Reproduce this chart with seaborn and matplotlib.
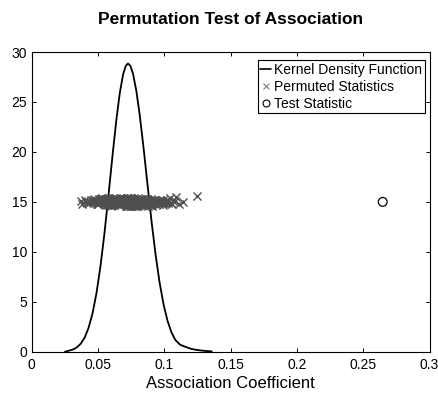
import matplotlib
matplotlib.use('Agg')
import matplotlib.pyplot as plt
import seaborn as sns
import pandas as pd
from matplotlib.lines import Line2D

# Kernel density curve
kde_x = [0.0252, 0.0280, 0.0310, 0.0340, 0.0370, 0.0400, 0.0430, 0.0460, 0.0490, 0.0520,
         0.0550, 0.0580, 0.0610, 0.0640, 0.0665, 0.0690, 0.0710, 0.0727, 0.0745, 0.0765,
         0.0790, 0.0815, 0.0845, 0.0875, 0.0905, 0.0935, 0.0965, 0.0995, 0.1025, 0.1055,
         0.1085, 0.1120, 0.1157, 0.1207, 0.1250, 0.1300, 0.1358]
kde_y = [0.0, 0.10, 0.21, 0.42, 0.79, 1.40, 2.39, 3.85, 5.90, 8.59,
         11.90, 15.66, 19.59, 23.29, 25.88, 27.75, 28.61, 28.85, 28.62, 27.82,
         26.11, 23.74, 20.33, 16.63, 13.00, 9.72, 6.94, 4.74, 3.09, 1.93,
         1.15, 0.70, 0.50, 0.27, 0.17, 0.09, 0.03]

# Permuted statistics (x in thousandths)
perm_x_milli = [
    73, 65, 81, 58, 90, 70, 77, 62, 85, 54, 96, 68, 74, 79, 60, 88, 71, 66, 83, 56,
    75, 63, 92, 50, 69, 78, 86, 59, 72, 64, 80, 53, 94, 67, 76, 61, 84, 57, 89, 70,
    48, 99, 74, 66, 82, 55, 71, 87, 63, 77, 52, 91, 68, 79, 60, 85, 73, 64, 97, 58,
    72, 81, 46, 67, 75, 93, 62, 78, 56, 86, 70, 65, 83, 51, 74, 89, 61, 76, 69, 80,
    57, 95, 73, 63, 84, 49, 71, 78, 66, 88, 59, 75, 82, 54, 68, 91, 64, 77, 72, 86,
    60, 70, 101, 47, 79, 67, 74, 83, 55, 90, 62, 76, 69, 85, 58, 72, 98, 65, 80, 53,
    73, 87, 61, 78, 68, 94, 56, 71, 82, 64, 75, 50, 89, 66, 79, 59, 84, 70, 92, 63,
    45, 76, 81, 67, 72, 57, 88, 74, 62, 96, 69, 80, 54, 77, 65, 86, 71, 60, 83, 103,
    74, 58, 90, 68, 79, 52, 73, 85, 63, 70, 97, 61, 76, 48, 82, 66, 87, 72, 56, 78,
    69, 93, 64, 81, 75, 59, 71, 100, 67, 84, 55, 77, 62, 89, 73, 51, 80, 65, 95, 70,
    44, 42, 40, 38, 37, 43, 41, 104, 106, 107, 109, 111, 114, 102, 105, 108, 46, 49, 99, 98,
    72, 66, 78, 61, 85, 70, 57, 91, 74, 63, 80, 68, 53, 87, 76, 59, 83, 71, 94, 65,
    62, 79, 70, 55, 87, 66, 74, 92, 59, 81, 68, 76, 51, 84, 63, 72, 97, 57, 78, 69,
    88, 64, 75, 53, 82, 71, 60, 93, 67, 77, 56, 86, 73, 49, 80, 65, 90, 58, 74, 101,
    66, 83, 52, 77, 70, 95, 61, 79, 68, 87, 55, 73, 84, 62, 91, 75, 50, 81, 64, 98,
    71, 58, 85, 67, 78, 54, 90, 72, 63, 96, 76, 60, 83, 69, 47, 88, 74, 65, 80, 57,
    79, 68, 93, 61, 75, 86, 52, 70, 82, 64, 99, 73, 59, 89, 66, 77, 55, 84, 71, 102,
    124.5]
perm_y = [
    15.0, 14.8, 15.2, 14.9, 15.1, 15.3, 14.7, 15.0, 14.9, 15.2, 14.8, 15.1, 15.4, 14.6, 15.0, 15.2, 14.9, 15.1, 14.7, 15.3,
    14.9, 15.1, 15.0, 14.8, 15.3, 14.7, 15.2, 15.0, 14.6, 15.1, 14.9, 15.4, 15.0, 14.8, 15.2, 14.9, 15.1, 15.3, 14.7, 15.0,
    15.2, 14.7, 14.9, 15.1, 15.0, 15.3, 14.8, 15.1, 15.2, 14.6, 15.0, 14.9, 15.3, 15.1, 14.8, 15.0, 15.4, 14.9, 15.1, 14.7,
    14.8, 15.0, 15.1, 15.3, 14.9, 15.2, 15.0, 14.7, 15.1, 14.9, 15.2, 15.0, 14.8, 15.3, 14.6, 15.1, 14.9, 15.2, 15.0, 15.4,
    15.1, 14.9, 15.2, 14.8, 15.0, 15.1, 15.3, 14.9, 14.7, 15.0, 15.2, 14.8, 15.1, 15.0, 15.3, 14.6, 15.1, 14.9, 15.2, 15.0,
    14.7, 15.2, 15.0, 15.1, 14.9, 15.3, 14.8, 15.0, 15.2, 15.1, 14.9, 14.7, 15.0, 15.2, 15.4, 14.8, 15.1, 15.0, 14.9, 15.3,
    15.0, 15.3, 14.9, 14.8, 15.1, 15.0, 15.2, 14.6, 15.1, 14.9, 15.3, 15.0, 14.8, 15.2, 15.1, 14.7, 15.0, 14.9, 15.2, 15.1,
    15.2, 15.0, 14.8, 15.1, 14.9, 15.3, 15.0, 15.2, 14.7, 15.1, 15.0, 14.9, 15.2, 15.4, 14.8, 15.0, 15.1, 14.6, 15.3, 14.9,
    14.9, 15.1, 15.3, 15.0, 14.8, 15.2, 14.7, 15.0, 15.1, 14.9, 15.2, 15.0, 14.8, 15.1, 15.3, 14.9, 15.0, 15.2, 14.7, 15.1,
    15.1, 14.8, 15.0, 15.2, 14.9, 15.1, 15.3, 15.0, 14.7, 15.2, 14.9, 15.0, 15.4, 14.8, 15.1, 15.0, 14.6, 15.2, 14.9, 15.0,
    15.0, 14.9, 15.2, 14.8, 15.1, 14.9, 15.0, 15.4, 14.8, 15.1, 15.5, 14.8, 15.0, 15.2, 14.9, 15.1, 15.0, 14.8, 15.2, 15.0,
    15.0, 15.2, 14.9, 15.1, 14.8, 15.3, 15.0, 14.9, 15.1, 15.2, 14.7, 15.0, 15.1, 14.9, 15.2, 15.0, 14.8, 15.3, 15.1, 14.9,
    15.3, 14.8, 15.0, 15.2, 14.7, 15.1, 14.9, 15.0, 15.3, 14.8, 15.2, 14.6, 15.0, 15.1, 14.9, 15.4, 15.0, 14.8, 15.2, 15.1,
    14.9, 15.2, 14.7, 15.0, 15.3, 14.8, 15.1, 15.0, 15.4, 14.9, 15.2, 15.0, 14.6, 15.1, 14.8, 15.3, 15.0, 15.2, 14.9, 15.1,
    15.1, 15.0, 15.3, 14.7, 15.2, 14.9, 15.0, 14.6, 15.1, 15.3, 14.8, 15.0, 15.2, 14.9, 15.1, 15.4, 14.8, 15.0, 15.2, 14.9,
    14.8, 15.3, 15.0, 15.2, 14.9, 15.1, 14.7, 15.4, 15.0, 14.8, 15.1, 15.2, 14.9, 15.0, 15.3, 14.6, 15.1, 15.0, 14.8, 15.2,
    15.2, 14.9, 15.1, 15.0, 14.6, 15.2, 15.3, 14.8, 15.0, 15.4, 14.9, 15.1, 15.0, 14.7, 15.2, 14.8, 15.1, 15.3, 14.9, 15.0,
    15.57]

# Test statistic
test_x = [0.2647]
test_y = [15.0]

x_ticks = [0, 0.05, 0.1, 0.15, 0.2, 0.25, 0.3]
x_tick_labels = ['0', '0.05', '0.1', '0.15', '0.2', '0.25', '0.3']
y_ticks = [0, 5, 10, 15, 20, 25, 30]

title = 'Permutation Test of Association'
x_label = 'Association Coefficient'
legend_labels = ['Kernel Density Function', 'Permuted Statistics', 'Test Statistic']

sns.set_theme(style='ticks')
plt.rcParams['font.family'] = ['Liberation Sans', 'DejaVu Sans']
plt.rcParams['text.color'] = 'black'
plt.rcParams['axes.labelcolor'] = 'black'
plt.rcParams['xtick.color'] = 'black'
plt.rcParams['ytick.color'] = 'black'

kde_df = pd.DataFrame({'x': kde_x, 'y': kde_y})
perm_df = pd.DataFrame({'x': [v / 1000.0 for v in perm_x_milli], 'y': perm_y})
test_df = pd.DataFrame({'x': test_x, 'y': test_y})

fig = plt.figure(figsize=(4.38, 3.95), dpi=100)
fig.patch.set_facecolor('white')
ax = fig.add_axes([0.072, 0.1096, 0.9087, 0.7587])
ax.set_facecolor('white')

sns.lineplot(data=kde_df, x='x', y='y', ax=ax, color='black', linewidth=1.3,
             sort=False, estimator=None)
sns.scatterplot(data=perm_df, x='x', y='y', ax=ax, marker='x', color='#4f4f4f',
                s=34, linewidth=1.0, zorder=3)
sns.scatterplot(data=test_df, x='x', y='y', ax=ax, marker='o', s=40,
                facecolor='none', edgecolor='black', linewidth=0.9, zorder=4)

ax.set_xlim(0, 0.3)
ax.set_ylim(0, 30)
ax.set_xticks(x_ticks)
ax.set_xticklabels(x_tick_labels)
ax.set_yticks(y_ticks)
ax.tick_params(direction='in', length=3, width=0.7, colors='black',
               labelcolor='black', top=True, right=True, labelsize=10)
ax.tick_params(axis='x', pad=4.5)
ax.tick_params(axis='y', pad=3)
for sp in ax.spines.values():
    sp.set_visible(True)
    sp.set_color('black')
    sp.set_linewidth(0.8)

ax.set_xlabel(x_label, fontsize=12, labelpad=3, color='black')
ax.set_ylabel('')
ax.set_title(title, fontsize=12.5, fontweight='bold', pad=20, color='black')

handles = [
    Line2D([], [], color='black', linewidth=1.2),
    Line2D([], [], color='#707070', marker='x', linestyle='none',
           markersize=4, markeredgewidth=0.7),
    Line2D([], [], color='black', marker='o', linestyle='none',
           markersize=5, markerfacecolor='none', markeredgewidth=0.8),
]
leg = ax.legend(handles, legend_labels, loc='upper right',
                bbox_to_anchor=(0.9887, 0.9723), borderaxespad=0,
                fontsize=10, frameon=True, fancybox=False, framealpha=1,
                edgecolor='black', handlelength=0.8, handletextpad=0.2,
                borderpad=0.2, labelspacing=0.2)
leg.get_frame().set_linewidth(0.8)
for t in leg.get_texts():
    t.set_color('black')

fig.savefig('out.png', dpi=100, facecolor='white')
